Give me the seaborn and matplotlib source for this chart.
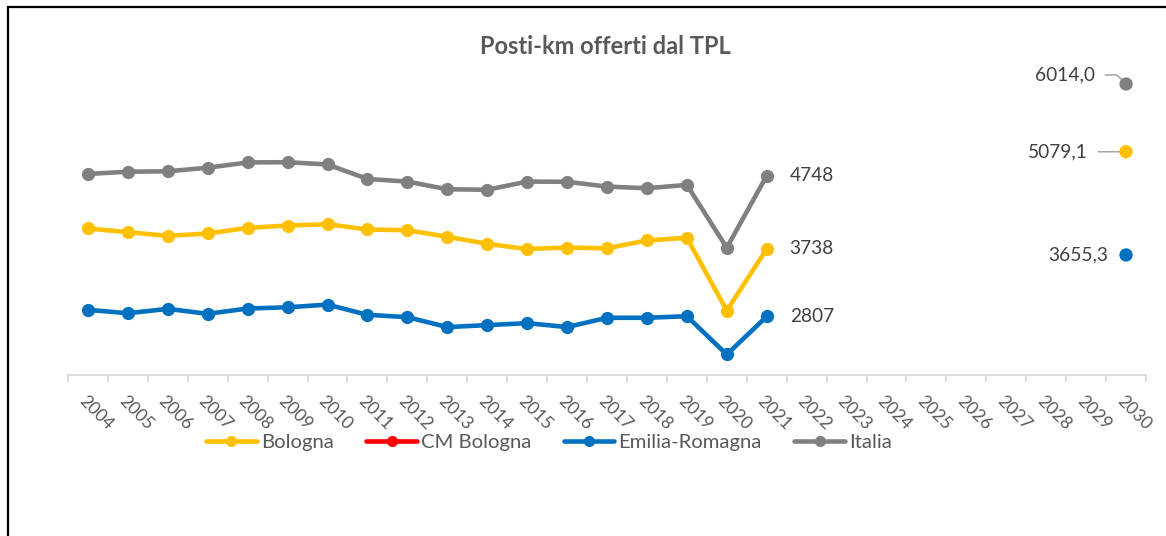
import numpy as np
import pandas as pd
import matplotlib
matplotlib.use("Agg")
import matplotlib.pyplot as plt
import matplotlib.transforms as mtransforms
from matplotlib.lines import Line2D
from matplotlib.patches import Rectangle
import seaborn as sns

# ---- data -------------------------------------------------------------
years = list(range(2004, 2022))
axis_years = list(range(2004, 2031))

bologna = [4021, 3970, 3919, 3952, 4029, 4062, 4079, 4007, 3997,
           3906, 3810, 3737, 3758, 3747, 3856, 3892, 2889, 3738]
emilia_romagna = [2899, 2852, 2912, 2844, 2917, 2934, 2971, 2830, 2798,
                  2661, 2688, 2715, 2661, 2789, 2789, 2811, 2283, 2807]
italia = [4773, 4804, 4810, 4859, 4932, 4935, 4904, 4704, 4668,
          4562, 4555, 4668, 4665, 4599, 4576, 4622, 3755, 4748]
cm_bologna = []  # no values available for the metropolitan city

target_year = 2030
target_series = ["Bologna", "Emilia-Romagna", "Italia"]
target_values = [5079.1, 3655.3, 6014.0]

series_names = ["Bologna", "CM Bologna", "Emilia-Romagna", "Italia"]
colors = {"Bologna": "#FFC000", "CM Bologna": "#FF0000",
          "Emilia-Romagna": "#0070C0", "Italia": "#808080"}

# ---- style ------------------------------------------------------------
sns.set_theme(style="white")
plt.rcParams["font.family"] = ["Lato", "DejaVu Sans"]
TXT = "#595959"
LBL = "#404040"

fig = plt.figure(figsize=(11.66, 5.36), dpi=100)
ax = fig.add_axes([68 / 1166, 1 - 375 / 536, 1078 / 1166, 362.5 / 536])

long = pd.DataFrame({
    "year": years * 3,
    "value": bologna + emilia_romagna + italia,
    "series": ["Bologna"] * len(years) + ["Emilia-Romagna"] * len(years)
              + ["Italia"] * len(years),
})

for name in ["Bologna", "Emilia-Romagna", "Italia"]:
    sub = long[long["series"] == name]
    sns.lineplot(data=sub, x="year", y="value", color=colors[name],
                 marker="o", markersize=9.5, markeredgewidth=0,
                 linewidth=3.3, ax=ax, legend=False, zorder=3)

# 2030 targets
tgt = pd.DataFrame({"year": [target_year] * len(target_values),
                    "value": target_values, "series": target_series})
sns.scatterplot(data=tgt, x="year", y="value", hue="series",
                palette=colors, s=92, edgecolor="none", legend=False,
                ax=ax, zorder=4)

# ---- axes -------------------------------------------------------------
ax.set_xlim(2003.5, 2030.5)
ax.set_ylim(2000, 7000)
ax.set_xlabel("")
ax.set_ylabel("")
ax.set_yticks([])
for s in ["top", "right", "left"]:
    ax.spines[s].set_visible(False)
ax.spines["bottom"].set_color("#d9d9d9")
ax.spines["bottom"].set_linewidth(1.3)

ax.set_xticks(axis_years)
ax.set_xticklabels([str(y) for y in axis_years], rotation=-45,
                   ha="left", va="top", rotation_mode="anchor",
                   fontsize=12.6, color=TXT)
ax.set_xticks(np.arange(2003.5, 2031, 1.0), minor=True)
ax.tick_params(axis="x", which="major", length=0, pad=13)
ax.tick_params(axis="x", which="minor", length=5, width=1.3,
               color="#d9d9d9", direction="out", bottom=True)
shift = mtransforms.ScaledTranslation(-1 / 100, 0, fig.dpi_scale_trans)
for lab in ax.get_xticklabels():
    lab.set_transform(lab.get_transform() + shift)

# ---- value labels -----------------------------------------------------
last = {"Bologna": bologna[-1], "Emilia-Romagna": emilia_romagna[-1],
        "Italia": italia[-1]}
for name, v in last.items():
    ax.annotate(f"{v}", xy=(years[-1], v), xytext=(23, 0),
                textcoords="offset pixels", ha="left", va="center",
                fontsize=13.8, color=LBL)

def fmt(v):
    return f"{v:.1f}".replace(".", ",")

lead = dict(arrowstyle="-", color="#a6a6a6", lw=1.1, shrinkB=1)
for name, v in zip(target_series, target_values):
    if name == "Italia":
        ax.annotate(fmt(v), xy=(target_year, v), xytext=(-31, 9),
                    textcoords="offset pixels", ha="right", va="center",
                    fontsize=13.8, color=LBL,
                    arrowprops=dict(lead, shrinkA=5,
                                    connectionstyle="angle,angleA=0,angleB=135,rad=0"),
                    zorder=2)
    elif name == "Bologna":
        ax.annotate(fmt(v), xy=(target_year, v), xytext=(-38, 0),
                    textcoords="offset pixels", ha="right", va="center",
                    fontsize=13.8, color=LBL,
                    arrowprops=dict(lead, shrinkA=5), zorder=2)
    else:
        ax.annotate(fmt(v), xy=(target_year, v), xytext=(-18, 0),
                    textcoords="offset pixels", ha="right", va="center",
                    fontsize=13.8, color=LBL)

# ---- title, legend, frame --------------------------------------------
fig.text(605 / 1166, 1 - 47 / 536, "Posti-km offerti dal TPL",
         ha="center", va="center", fontsize=17, fontweight="bold",
         color=TXT)

handles = [Line2D([], [], color=colors[n], lw=3.3, marker="o",
                  markersize=8, markeredgewidth=0) for n in series_names]
leg = fig.legend(handles, series_names, loc="center",
                 bbox_to_anchor=(549 / 1166, 1 - 442 / 536), ncol=4,
                 frameon=False, fontsize=14.6, handlelength=2.5,
                 handletextpad=0.2, columnspacing=1.6)
for t in leg.get_texts():
    t.set_color(TXT)

frame = Rectangle((8 / 1166, -0.2), 1.5, 0.2 + (1 - 7 / 536),
                  transform=fig.transFigure, fill=False,
                  edgecolor="black", linewidth=1.6, clip_on=False)
fig.patches.append(frame)

fig.savefig("out.png", dpi=100, facecolor="white")
